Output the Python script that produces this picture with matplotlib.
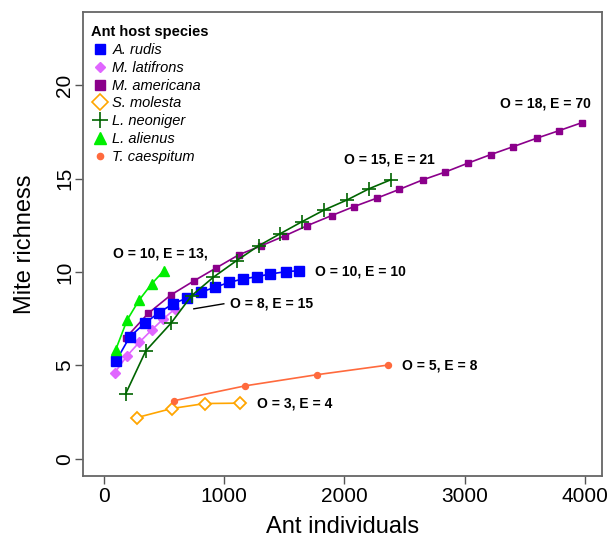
import matplotlib
matplotlib.use("Agg")
import matplotlib.pyplot as plt
from matplotlib.lines import Line2D

plt.rcParams['font.family'] = ['Liberation Sans', 'DejaVu Sans']

# ---- data ----
rudis_x = [102, 218, 343, 459, 575, 692, 808, 924, 1041, 1157, 1273, 1381, 1514, 1622]
rudis_y = [5.22, 6.53, 7.26, 7.82, 8.29, 8.61, 8.92, 9.18, 9.44, 9.63, 9.75, 9.89, 10.02, 10.07]

latifrons_x = [94, 196, 296, 399, 495, 592]
latifrons_y = [4.62, 5.52, 6.23, 6.89, 7.48, 8.02]

americana_x = [183, 370, 559, 752, 933, 1126, 1312, 1506, 1691, 1894, 2079,
               2272, 2455, 2650, 2837, 3023, 3217, 3402, 3596, 3784, 3975]
americana_y = [6.46, 7.78, 8.77, 9.53, 10.21, 10.93, 11.41, 11.94, 12.48, 13.02, 13.50,
               13.96, 14.42, 14.93, 15.35, 15.82, 16.29, 16.71, 17.16, 17.57, 18.0]

molesta_x = [279, 565, 841, 1132]
molesta_y = [2.21, 2.69, 2.96, 2.98]

neoniger_x = [183, 351, 559, 731, 910, 1105, 1290, 1464, 1647, 1832, 2023, 2206, 2386]
neoniger_y = [3.47, 5.78, 7.25, 8.73, 9.71, 10.61, 11.41, 12.04, 12.69, 13.32, 13.86, 14.46, 14.94]

alienus_x = [100, 196, 296, 399, 501]
alienus_y = [5.82, 7.43, 8.50, 9.36, 10.07]

caespitum_x = [586, 1179, 1769, 2364]
caespitum_y = [3.11, 3.91, 4.50, 5.02]

species = ["A. rudis", "M. latifrons", "M. americana", "S. molesta",
           "L. neoniger", "L. alienus", "T. caespitum"]

annot_text = ["O = 10, E = 13,", "O = 8, E = 15", "O = 10, E = 10", "O = 15, E = 21",
              "O = 18, E = 70", "O = 5, E = 8", "O = 3, E = 4"]
annot_x = [476, 1049, 1754, 2378, 3669, 2475, 1271]
annot_y = [10.98, 8.29, 10.03, 16.0, 19.0, 5.02, 2.96]
annot_ha = ["center", "left", "left", "center", "center", "left", "left"]
leader_x = [750, 999]
leader_y = [8.03, 8.30]

x_ticks = [0, 1000, 2000, 3000, 4000]
y_ticks = [0, 5, 10, 15, 20]

# ---- styles ----
c_rudis = "#0000FF"
c_lati = "#E066FF"
c_amer = "#8B008B"
c_mol = "#FFA500"
c_neo = "#006400"
c_ali = "#00EE00"
c_cae = "#FF6A3D"
lw = 1.2

fig = plt.figure(figsize=(6.1, 5.42), dpi=100)
ax = fig.add_axes([83.3 / 610, 1 - 476 / 542, (602 - 83.3) / 610, (476 - 12) / 542])

ax.plot(americana_x, americana_y, '-s', color=c_amer, ms=4.4, lw=lw, zorder=3)
ax.plot(latifrons_x, latifrons_y, '-D', color=c_lati, ms=4.8, lw=lw, zorder=3)
ax.plot(rudis_x, rudis_y, '-s', color=c_rudis, ms=7.2, lw=lw, zorder=4)
ax.plot(molesta_x, molesta_y, '-D', color=c_mol, ms=6.6, lw=lw, mfc='white',
        mew=1.3, zorder=3)
ax.plot(caespitum_x, caespitum_y, '-o', color=c_cae, ms=4.3, lw=lw, zorder=3)
ax.plot(neoniger_x, neoniger_y, '-+', color=c_neo, ms=9.5, mew=1.2, lw=lw, zorder=5)
ax.plot(alienus_x, alienus_y, '-^', color=c_ali, ms=7.2, lw=lw, zorder=5)

for t, x, y, ha in zip(annot_text, annot_x, annot_y, annot_ha):
    ax.text(x, y, t, ha=ha, va='center', fontsize=10, fontweight='bold', color='black')
ax.plot(leader_x, leader_y, color='black', lw=1.0)

ax.set_xlim(-168, 4140)
ax.set_ylim(-0.92, 23.92)
ax.set_xticks(x_ticks)
ax.set_yticks(y_ticks)
ax.tick_params(axis='both', direction='out', length=6, width=1.0, color='#555555',
               labelsize=15)
ax.tick_params(axis='y', labelrotation=90, pad=0.6)
ax.tick_params(axis='x', pad=2)
for lab in ax.get_yticklabels():
    lab.set_va('center')
for sp in ax.spines.values():
    sp.set_color('#666666')
    sp.set_linewidth(1.3)

ax.set_xlabel("Ant individuals", fontsize=17, labelpad=7)
ax.set_ylabel("Mite richness", fontsize=17, labelpad=13.5)

handles = [
    Line2D([], [], ls='none', marker='s', color=c_rudis, ms=7),
    Line2D([], [], ls='none', marker='D', color=c_lati, ms=4.8),
    Line2D([], [], ls='none', marker='s', color=c_amer, ms=7),
    Line2D([], [], ls='none', marker='D', color=c_mol, ms=8, mfc='white', mew=1.2),
    Line2D([], [], ls='none', marker='+', color=c_neo, ms=12, mew=1.2),
    Line2D([], [], ls='none', marker='^', color=c_ali, ms=8),
    Line2D([], [], ls='none', marker='o', color=c_cae, ms=4.5),
]
leg = ax.legend(handles, species, loc='upper left', bbox_to_anchor=(0, 1 - 6 / 464),
                borderaxespad=0, frameon=False, fontsize=10.5,
                title="Ant host species", alignment='left',
                title_fontproperties={'weight': 'bold', 'size': 10.5},
                handlelength=1.3, handletextpad=0.2, borderpad=0.5,
                labelspacing=0.26)
for txt in leg.get_texts():
    txt.set_fontstyle('italic')

fig.savefig("out.png", dpi=100)
